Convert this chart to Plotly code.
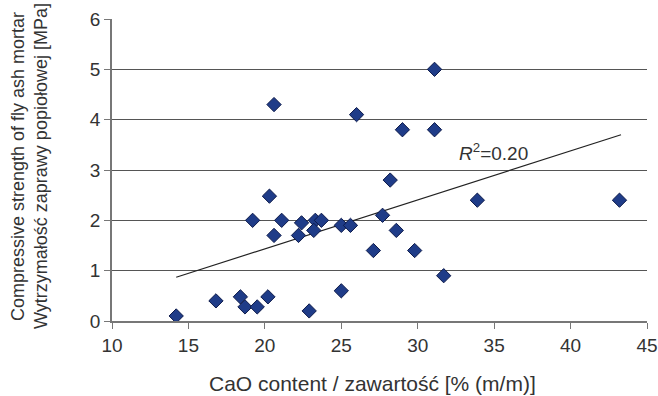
import plotly.graph_objects as go

cao = [14.2, 16.8, 18.4, 18.7, 19.5, 19.2, 20.2, 20.3, 20.6, 20.6, 21.1, 22.4, 22.2, 22.9,
       23.3, 23.2, 23.7, 25.0, 25.0, 25.6, 26.0, 27.1, 27.7, 28.2, 28.6, 29.0, 29.8, 31.1,
       31.1, 31.7, 33.9, 43.2]
strength = [0.1, 0.4, 0.48, 0.28, 0.28, 2.0, 0.48, 2.48, 4.3, 1.7, 2.0, 1.95, 1.7, 0.2,
            2.0, 1.8, 2.0, 0.6, 1.9, 1.9, 4.1, 1.4, 2.1, 2.8, 1.8, 3.8, 1.4, 5.0,
            3.8, 0.9, 2.4, 2.4]
trend_x = [14.2, 43.3]
trend_y = [0.87, 3.7]
x_ticks = [10, 15, 20, 25, 30, 35, 40, 45]
y_ticks = [0, 1, 2, 3, 4, 5, 6]
x_title = "CaO content / zawartość [% (m/m)]"
y_title_1 = "Compressive strength of fly ash mortar"
y_title_2 = "Wytrzymałość zaprawy popiołowej [MPa]"
r2_text = "<i>R</i><sup>2</sup>=0.20"

font = "Liberation Sans, Arial, sans-serif"
W, H = 658, 396
L, R, T, B = 112, 11, 19, 75
pw, ph = W - L - R, H - T - B

fig = go.Figure()
fig.add_trace(go.Scatter(x=trend_x, y=trend_y, mode="lines",
                         line=dict(color="#222222", width=1.2), showlegend=False, hoverinfo="skip"))
fig.add_trace(go.Scatter(x=cao, y=strength, mode="markers",
                         marker=dict(symbol="diamond", size=11, color="#1F3C88",
                                     line=dict(color="#0D1A4A", width=1)),
                         showlegend=False))

fig.add_annotation(x=34.98, y=3.36, xref="x", yref="y", text=r2_text,
                   showarrow=False, font=dict(family=font, size=19, color="#333333"))

# axis titles
fig.add_annotation(x=(372 - L) / pw, y=-(383 - (T + ph)) / ph, xref="paper", yref="paper",
                   text=x_title, showarrow=False, xanchor="center", yanchor="middle",
                   font=dict(family=font, size=21, color="#333333"))
fig.add_annotation(x=(18 - L) / pw, y=1 - (167 - T) / ph, xref="paper", yref="paper",
                   text=y_title_1, showarrow=False, textangle=-90, xanchor="center", yanchor="middle",
                   font=dict(family=font, size=18, color="#333333"))
fig.add_annotation(x=(41 - L) / pw, y=1 - (166 - T) / ph, xref="paper", yref="paper",
                   text=y_title_2, showarrow=False, textangle=-90, xanchor="center", yanchor="middle",
                   font=dict(family=font, size=18, color="#333333"))

fig.update_layout(
    width=W, height=H,
    margin=dict(l=L, r=R, t=T, b=B),
    plot_bgcolor="white", paper_bgcolor="white",
    font=dict(family=font, size=19, color="#333333"),
    xaxis=dict(range=[10, 45], tickvals=x_ticks, showgrid=False, zeroline=False,
               showline=True, linecolor="#777777", linewidth=1.5, automargin=False,
               ticks="outside", ticklen=6, tickcolor="#777777"),
    yaxis=dict(range=[0, 6], tickvals=y_ticks, showgrid=True, gridcolor="#555555", gridwidth=1.3,
               zeroline=False, showline=True, linecolor="#777777", linewidth=1.5, automargin=False,
               ticks="outside", ticklen=6, tickcolor="#777777"),
)

fig.write_html("out.html", config={"displayModeBar": False},
               post_script="document.body.style.margin='0px';document.body.style.overflow='hidden';")
